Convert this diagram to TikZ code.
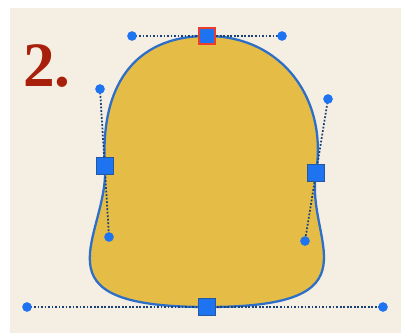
\documentclass[tikz,border=0pt]{standalone}
\usepackage{fontspec}
\setmainfont{Liberation Serif}
\usepackage{xcolor}
\usepackage{tikz}
\usetikzlibrary{calc}
\definecolor{FondoCrema}{RGB}{245,239,227}
\definecolor{Mostaza}{RGB}{229,189,70}
\definecolor{AzulBorde}{RGB}{45,110,200}
\definecolor{AzulPunto}{RGB}{30,115,240}
\definecolor{RojoNum}{RGB}{168,32,12}
\definecolor{RojoSel}{RGB}{235,60,45}

\begin{document}
\begin{tikzpicture}[x=0.02cm,y=-0.02cm,
  handle/.style={densely dotted,line width=1pt,AzulBorde!60!black},
  knob/.style={circle,fill=AzulPunto,inner sep=0pt,minimum size=5.5pt},
  anchorbox/.style={rectangle,fill=AzulPunto,draw=AzulBorde!80!black,line width=0.6pt,inner sep=0pt,minimum size=9.5pt},
  selbox/.style={anchorbox,draw=RojoSel,line width=1.2pt}]
  \fill[white] (0,0) rectangle (402,335);
  \fill[FondoCrema] (10,8) rectangle (401,333);
  \useasboundingbox (0,0) rectangle (402,335);

  % anchors and handles
  \coordinate (T) at (207,36);
  \coordinate (Tl) at (132,36);
  \coordinate (Tr) at (282,36);
  \coordinate (L) at (105,166);
  \coordinate (Lu) at (100,89);
  \coordinate (Ld) at (109,237);
  \coordinate (R) at (316,173);
  \coordinate (Ru) at (328,99);
  \coordinate (Rd) at (305,241);
  \coordinate (B) at (207,307);
  \coordinate (Bl) at (27,307);
  \coordinate (Br) at (383,307);

  \filldraw[fill=Mostaza,draw=AzulBorde,line width=1.3pt]
    (T) .. controls (Tl) and (Lu) .. (L)
        .. controls (Ld) and (Bl) .. (B)
        .. controls (Br) and (Rd) .. (R)
        .. controls (Ru) and (Tr) .. (T) -- cycle;

  \node[anchor=base west,text=RojoNum,font=\fontsize{36}{36}\selectfont\bfseries]
    (num) at (17,86) {2.};

  \draw[handle] (Tl) -- (Tr);
  \draw[handle] (Lu) -- (Ld);
  \draw[handle] (Ru) -- (Rd);
  \draw[handle] (Bl) -- (Br);

  \foreach \p in {Tl,Tr,Lu,Ld,Ru,Rd,Bl,Br}
    \node[knob] (k\p) at (\p) {};
  \foreach \p in {L,R,B}
    \node[anchorbox] (a\p) at (\p) {};
  \node[selbox] (aT) at (T) {};
\end{tikzpicture}
\end{document}
